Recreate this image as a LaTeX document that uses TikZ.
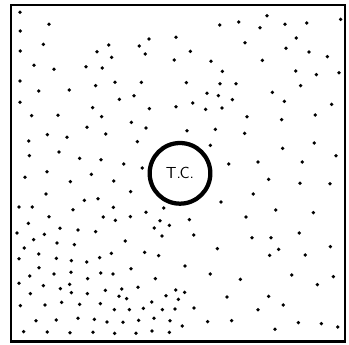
\documentclass[tikz,border=0pt]{standalone}
\usepackage{tikz}

\begin{document}
\begin{tikzpicture}[x=0.25pt, y=-0.25pt,
    frame/.style={draw=black, line width=2pt},
    core/.style={draw=black, circle, line width=3.2pt, minimum size=182*0.25pt,
                 inner sep=0pt, font=\sffamily\large},
    spot/.style={fill=black}
]
\useasboundingbox (0,0) rectangle (1047,1032);
\node[frame, minimum width=1002*0.25pt, minimum height=1010*0.25pt, inner sep=0pt]
    (box) at (534,520) {};
\node[core] (tc) at (540,520) {T.\kern-1pt C.};

\foreach \px/\py in {
  60/37, 147/73, 61/93, 801/47, 716/66, 659/75, 780/83, 855/73, 920/69, 1022/58,
  528/112, 447/117, 130/133, 326/135, 418/138, 735/128, 889/114,
  61/153, 291/155, 436/162, 571/154, 858/145, 927/156, 982/170,
  335/172, 523/180, 633/184, 787/181,
  102/196, 162/208, 258/200, 307/204, 667/214, 887/213, 949/224, 1017/218,
  60/243, 345/247, 424/247, 559/248, 660/251, 708/251, 902/257,
  116/273, 208/270, 287/257, 402/287, 358/298, 621/280, 655/287, 697/299, 817/277,
  60/307, 528/320, 578/309, 617/328, 666/324, 853/304, 995/313,
  278/323, 448/326,
  95/347, 174/346, 305/350, 741/350, 845/359, 946/345,
  261/382, 394/367, 438/384, 561/392, 646/388,
  142/404, 201/412, 317/402, 734/400,
  86/423, 412/425, 631/436, 848/445, 943/429,
  88/467, 177/456, 239/475, 303/479, 686/492, 774/486, 907/486, 1008/467,
  371/492, 427/504,
  141/515, 75/532, 274/523, 211/545, 341/543, 806/538, 900/550, 990/551,
  392/575, 138/582, 760/582,
  253/601, 294/596, 663/606,
  57/621, 97/621, 219/629, 340/622, 491/624, 827/630, 940/638,
  147/650, 310/651, 346/661, 391/650, 438/637, 568/659, 738/651,
  85/670, 180/685, 463/684, 480/662, 508/676, 234/690, 287/695, 898/699,
  51/699, 133/703, 101/719, 171/729, 223/734, 376/723, 486/708, 581/705, 756/713, 813/713,
  73/744, 116/762, 169/775, 214/782, 260/786, 299/773, 334/760, 434/757, 476/767,
  652/746, 836/748, 809/766, 916/765, 991/740,
  57/776, 117/803, 393/806, 555/798,
  89/828, 162/822, 213/817, 263/836, 302/819, 339/822, 466/836, 631/822, 721/838, 875/825, 1000/830,
  57/850, 130/857, 181/866, 209/853, 262/881, 316/871, 365/867, 414/862, 952/854,
  91/881, 214/878, 357/889, 380/896, 498/887, 527/870, 554/877, 535/898, 681/891, 806/889,
  61/917, 135/915, 185/907, 239/913, 301/911, 343/929, 388/929, 430/925, 455/906, 487/929,
  525/927, 582/924, 774/929, 850/915,
  108/962, 169/960, 234/955, 283/958, 321/966, 369/967, 416/961, 462/955, 510/962, 547/978,
  623/965, 695/962, 895/968, 964/971, 1013/981,
  71/995, 142/996, 210/998, 279/997, 344/1000, 408/1000, 456/993, 508/997, 825/988}
  \fill[spot] (\px,\py) circle (1.4pt);
\end{tikzpicture}
\end{document}
